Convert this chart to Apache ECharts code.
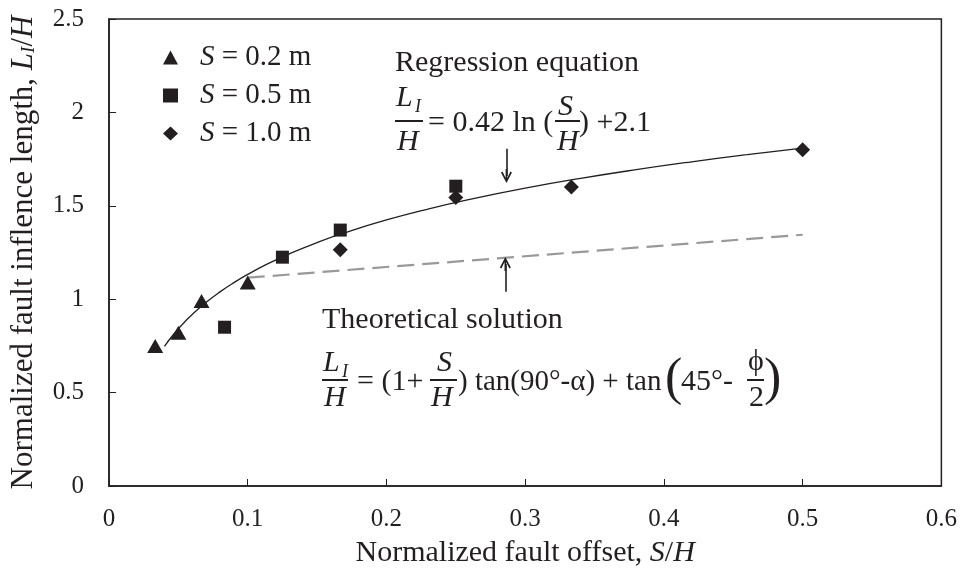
<!DOCTYPE html>
<html>
<head>
<meta charset="utf-8">
<script src="https://cdn.jsdelivr.net/npm/echarts@6/dist/echarts.min.js"></script>
<style>
  html, body { margin: 0; padding: 0; background: #fff; }
  #chart { width: 960px; height: 575px; }
</style>
</head>
<body>
<div id="chart"></div>
<script>
// Measured points: normalized offset S/H vs normalized influence length L_I/H
const seriesNames = ['S = 0.2 m', 'S = 0.5 m', 'S = 1.0 m'];
const offset02 = [0.0333, 0.05, 0.0667, 0.1];
const ratio02  = [0.75, 0.82, 0.99, 1.09];
const offset05 = [0.0833, 0.125, 0.1667, 0.25];
const ratio05  = [0.85, 1.225, 1.37, 1.605];
const offset10 = [0.1667, 0.25, 0.3333, 0.5];
const ratio10  = [1.265, 1.545, 1.60, 1.80];

// Regression: L_I/H = a ln(S/H) + b
const regCoef = [0.42, 2.1];
const fitOffsets = [0.04, 0.045, 0.05, 0.055, 0.06, 0.07, 0.08, 0.09, 0.1, 0.115, 0.13, 0.15,
                    0.17, 0.2, 0.23, 0.26, 0.3, 0.34, 0.38, 0.42, 0.46, 0.5];

// Theoretical solution (straight line)
const theoryOffsets = [0.1, 0.5];
const theoryRatios  = [1.115, 1.345];

// Pointer arrows: [x, from y, to y]
const regArrow    = [0.2865, 1.805, 1.622];
const theoryArrow = [0.2857, 1.04, 1.226];

const xTicks = { min: 0, max: 0.6, step: 0.1 };
const yTicks = { min: 0, max: 2.5, step: 0.5 };

const SERIF = "'Times New Roman', 'Liberation Serif', serif";
const INK = '#231f20';

const zip = (xs, ys) => xs.map((x, i) => [x, ys[i]]);
const fitData = fitOffsets.map(x => [x, regCoef[0] * Math.log(x) + regCoef[1]]);

// Open arrow head with its own stem, tip at top; centre lies on the line end
const arrowHead = 'path://M5,0 L10,10.6 L8.6,11.6 L5.75,5 L5.75,14 L4.25,14 L4.25,5 L1.4,11.6 L0,10.6 Z';
const HEAD_H = 14;

const chart = echarts.init(document.getElementById('chart'), null, { renderer: 'canvas' });

function arrowLine(a, pxPerUnit) {
  const dir = Math.sign(a[2] - a[1]);
  const half = (HEAD_H / 2) / pxPerUnit;
  return [{ coord: [a[0], a[1]] }, { coord: [a[0], a[2] - dir * half] }];
}

const marker = { color: INK, opacity: 1 };

// Text helpers for the two annotated equations
function txt(x, baseline, s, size, italic) {
  return {
    type: 'text', x: x, y: baseline - 0.34 * size, z: 100,
    style: {
      text: s, fill: INK, verticalAlign: 'middle', align: 'left',
      font: (italic ? 'italic ' : '') + size + 'px ' + SERIF
    }
  };
}
function bar(x1, x2, y) {
  return { type: 'rect', z: 100, shape: { x: x1, y: y - 1, width: x2 - x1, height: 2 }, style: { fill: INK } };
}

const FS = 30;
const graphics = [
  // Regression equation
  txt(395, 73, 'Regression equation', FS),
  txt(396, 108, 'L', FS, true),
  txt(415, 113, 'I', 18, true),
  bar(395, 423, 121),
  txt(397, 152, 'H', FS, true),
  txt(428, 133, '= 0.42 ln (', FS),
  txt(558, 117, 'S', FS, true),
  bar(555, 580, 121),
  txt(557, 152, 'H', FS, true),
  txt(579, 133, ') +2.1', FS),

  // Theoretical solution
  txt(322, 330, 'Theoretical solution', FS),
  txt(323, 373, 'L', FS, true),
  txt(342, 378, 'I', 18, true),
  bar(322, 348, 380),
  txt(324, 408, 'H', FS, true),
  txt(357, 392, '= (1+', FS),
  txt(437, 373, 'S', FS, true),
  bar(430, 457, 380),
  txt(431, 408, 'H', FS, true),
  txt(458, 392, ') tan(90°-α) + tan', 29),
  txt(665, 398, '(', 52),
  txt(681, 392, '45°-', FS),
  txt(748, 372, 'ϕ', FS),
  bar(747, 764, 380),
  txt(749, 408, '2', FS),
  txt(764, 398, ')', 52)
];

const option = {
  animation: false,
  backgroundColor: '#fff',
  textStyle: { fontFamily: SERIF, color: INK },
  grid: { left: 107, right: 16, top: 19, bottom: 89, show: true, borderColor: INK, borderWidth: 1.5, backgroundColor: 'transparent' },
  legend: {
    data: seriesNames,
    orient: 'vertical',
    left: 158, top: 38,
    itemWidth: 15, itemHeight: 14, itemGap: 9,
    formatter: name => '{i|S}{t|' + name.slice(1) + '}',
    textStyle: {
      color: INK, fontSize: 29, fontFamily: SERIF, padding: [0, 0, 0, 17],
      rich: {
        i: { fontStyle: 'italic', fontSize: 29, fontFamily: SERIF, color: INK },
        t: { fontSize: 29, fontFamily: SERIF, color: INK }
      }
    }
  },
  xAxis: {
    type: 'value', min: xTicks.min, max: xTicks.max, interval: xTicks.step,
    splitLine: { show: false },
    axisLine: { lineStyle: { color: INK, width: 1.5 } },
    axisTick: { inside: true, length: 7, lineStyle: { color: INK, width: 1 } },
    axisLabel: { fontSize: 25, fontFamily: SERIF, color: INK, margin: 21 },
    name: '{n|Normalized fault offset, }{i|S}{n|/}{i|H}',
    nameLocation: 'middle', nameGap: 52,
    nameTextStyle: {
      rich: {
        n: { fontSize: 30, fontFamily: SERIF, color: INK },
        i: { fontSize: 30, fontFamily: SERIF, color: INK, fontStyle: 'italic' }
      }
    }
  },
  yAxis: {
    type: 'value', min: yTicks.min, max: yTicks.max, interval: yTicks.step,
    splitLine: { show: false },
    axisLine: { show: true, lineStyle: { color: INK, width: 1.5 } },
    axisTick: { show: true, inside: true, length: 7, lineStyle: { color: INK, width: 1 } },
    axisLabel: { fontSize: 25, fontFamily: SERIF, color: INK, margin: 25 },
    name: '{n|Normalized fault inflence length, }{i|L}{s|I}{n|/}{i|H}',
    nameLocation: 'middle', nameGap: 70, nameRotate: 90,
    nameTextStyle: {
      rich: {
        n: { fontSize: 31, fontFamily: SERIF, color: INK },
        i: { fontSize: 31, fontFamily: SERIF, color: INK, fontStyle: 'italic' },
        s: { fontSize: 19, fontFamily: SERIF, color: INK, fontStyle: 'italic', padding: [11, 0, 0, 0] }
      }
    }
  },
  series: [
    {
      name: 'Regression', type: 'line', data: fitData, smooth: true, showSymbol: false,
      lineStyle: { color: INK, width: 1.3 }, z: 2,
      markLine: {
        silent: true, symbol: ['none', arrowHead], symbolSize: [11, HEAD_H],
        lineStyle: { color: INK, width: 1.6, type: 'solid' }, label: { show: false },
        data: [arrowLine(regArrow, 187), arrowLine(theoryArrow, 187)]
      }
    },
    {
      name: 'Theoretical', type: 'line', data: zip(theoryOffsets, theoryRatios), showSymbol: false,
      lineStyle: { color: '#999999', width: 2.2, type: [17, 8] }, z: 2
    },
    { name: seriesNames[0], type: 'scatter', symbol: 'triangle', symbolSize: [16, 14], data: zip(offset02, ratio02), itemStyle: marker, z: 3 },
    { name: seriesNames[1], type: 'scatter', symbol: 'rect', symbolSize: 13, data: zip(offset05, ratio05), itemStyle: marker, z: 3 },
    { name: seriesNames[2], type: 'scatter', symbol: 'diamond', symbolSize: [15, 15], data: zip(offset10, ratio10), itemStyle: marker, z: 3 }
  ],
  graphic: graphics
};

chart.setOption(option);
</script>
</body>
</html>
